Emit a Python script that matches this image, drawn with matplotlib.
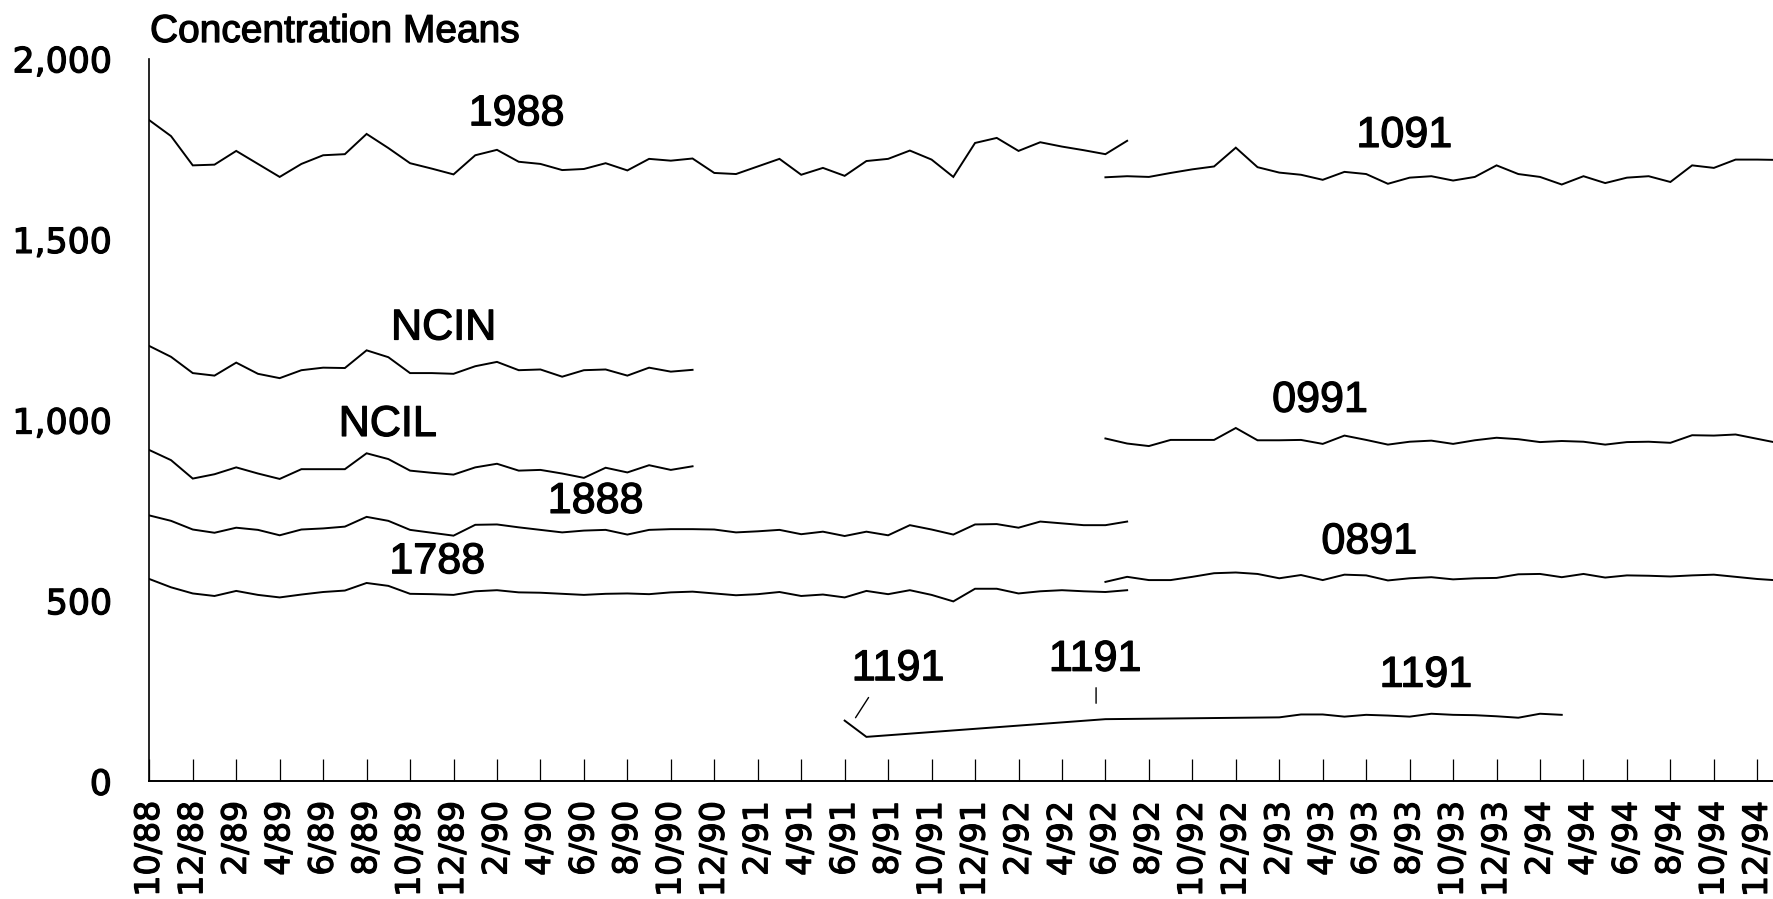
import matplotlib
matplotlib.use("Agg")
import matplotlib.pyplot as plt
import matplotlib.patheffects as pe

# ---------------- data ----------------
tick_labels = ["10/88", "12/88", "2/89", "4/89", "6/89", "8/89", "10/89", "12/89",
               "2/90", "4/90", "6/90", "8/90", "10/90", "12/90", "2/91", "4/91",
               "6/91", "8/91", "10/91", "12/91", "2/92", "4/92", "6/92", "8/92",
               "10/92", "12/92", "2/93", "4/93", "6/93", "8/93", "10/93", "12/93",
               "2/94", "4/94", "6/94", "8/94", "10/94", "12/94"]

# month index 0 = 10/88
x_early = list(range(0, 46))      # 10/88 .. 7/92
x_short = list(range(0, 26))      # 10/88 .. 11/90
x_late = list(range(44, 76))      # 6/92 .. 1/95

s1988 = [1830, 1786, 1705, 1707, 1745, 1709, 1673, 1709, 1733, 1736, 1792, 1753,
         1711, 1696, 1680, 1733, 1748, 1715, 1709, 1692, 1695, 1711, 1691, 1723,
         1718, 1724, 1684, 1681, 1702, 1723, 1679, 1698, 1676, 1717, 1723, 1746,
         1721, 1673, 1767, 1781, 1745, 1769, 1757, 1747, 1736, 1773]

ncin = [1205, 1175, 1130, 1123, 1159, 1128, 1116, 1138, 1145, 1144, 1193, 1174,
        1130, 1130, 1128, 1149, 1161, 1138, 1140, 1120, 1138, 1140, 1123, 1145,
        1134, 1139]

ncil = [917, 889, 838, 850, 869, 852, 837, 864, 864, 864, 908, 892, 860, 854,
        849, 869, 879, 860, 862, 852, 840, 868, 855, 875, 862, 872]

s1888 = [736, 721, 697, 688, 702, 696, 681, 697, 700, 705, 732, 721, 696, 688,
         680, 710, 711, 703, 696, 689, 694, 696, 683, 696, 698, 698, 697, 689,
         692, 696, 684, 691, 679, 691, 681, 709, 697, 683, 711, 712, 702, 719,
         714, 709, 709, 719]

s1788 = [560, 537, 520, 513, 527, 516, 509, 517, 524, 528, 549, 541, 519, 518,
         516, 526, 529, 523, 522, 519, 516, 519, 520, 518, 523, 525, 520, 515,
         518, 524, 513, 517, 509, 527, 518, 529, 516, 498, 533, 533, 520, 526,
         529, 526, 524, 529]

s1091 = [1672, 1675, 1673, 1684, 1694, 1702, 1754, 1700, 1685, 1679, 1665, 1687,
         1681, 1654, 1671, 1675, 1663, 1673, 1705, 1681, 1673, 1652, 1675, 1656,
         1671, 1675, 1659, 1705, 1698, 1721, 1721, 1720]

s0991 = [949, 935, 928, 945, 945, 945, 978, 944, 944, 945, 934, 957, 945, 932,
         940, 943, 934, 944, 951, 947, 939, 942, 940, 932, 939, 940, 937, 958,
         957, 960, 948, 936]

s0891 = [552, 566, 557, 557, 566, 576, 578, 574, 562, 571, 557, 572, 570, 556,
         562, 565, 559, 562, 563, 573, 574, 565, 574, 564, 570, 569, 567, 570,
         572, 566, 560, 556]

x1191 = [32, 33, 44, 52, 53, 54, 55, 56, 57, 58, 59, 60, 61, 62, 63, 64, 65]
s1191 = [168, 123, 172, 177, 185, 185, 179, 184, 182, 179, 187, 184, 183, 180,
         176, 187, 184]

# label text and anchor (month index, value at text baseline)
series_labels = [("1988", 16.9, 1816), ("NCIN", 13.54, 1223), ("NCIL", 10.97, 956),
                 ("1888", 20.54, 743), ("1788", 13.25, 576), ("1091", 57.75, 1756),
                 ("0991", 53.87, 1023), ("0891", 56.14, 631), ("1191", 34.45, 280),
                 ("1191", 43.52, 306), ("1191", 58.74, 262)]
# short leader strokes near the 1191 labels
leaders = [((32.5, 176), (33.1, 232)), ((43.57, 216), (43.57, 259))]

y_ticks = [0, 500, 1000, 1500, 2000]
y_tick_labels = ["0", "500", "1,000", "1,500", "2,000"]

# ---------------- figure ----------------
plt.rcParams["font.family"] = ["Liberation Sans", "DejaVu Sans"]

W, H = 1773, 899
fig = plt.figure(figsize=(W / 100, H / 100), dpi=100)
left = 149.3 / W
bottom = 1 - 781.3 / H
top = 1 - 58.8 / H
ax = fig.add_axes([left, bottom, 1 - left, top - bottom])

heavy = [pe.withStroke(linewidth=0.9, foreground="black")]

lw = 1.4
kw = dict(color="black", lw=lw, solid_joinstyle="miter")
ax.plot(x_early, s1988, **kw)
ax.plot(x_short, ncin, **kw)
ax.plot(x_short, ncil, **kw)
ax.plot(x_early, s1888, **kw)
ax.plot(x_early, s1788, **kw)
ax.plot(x_late, s1091, **kw)
ax.plot(x_late, s0991, **kw)
ax.plot(x_late, s0891, **kw)
ax.plot(x1191, s1191, **kw)

for (p0, p1) in leaders:
    ax.annotate("", xy=p1, xytext=p0,
                arrowprops=dict(arrowstyle="-", color="black", lw=1.0,
                                shrinkA=0, shrinkB=0))

for txt, xi, yv in series_labels:
    ax.text(xi, yv, txt, fontsize=31, ha="center", va="baseline",
            family=["Liberation Sans", "DejaVu Sans"], path_effects=heavy)

ax.set_xlim(0, (W - 149.3) / 21.73)
ax.set_ylim(0, 2000)

ax.set_xticks(list(range(0, 75, 2)))
ax.set_xticklabels(tick_labels, rotation=90, fontsize=24, family="DejaVu Sans")
ax.set_yticks(y_ticks)
ax.set_yticklabels(y_tick_labels, fontsize=25, family="DejaVu Sans")
for t in ax.get_xticklabels() + ax.get_yticklabels():
    t.set_path_effects(heavy)

ax.tick_params(axis="x", direction="in", length=15.8, width=0.9, pad=14)
ax.tick_params(axis="y", length=0, pad=27)

for s in ["top", "right"]:
    ax.spines[s].set_visible(False)
ax.spines["left"].set_linewidth(1.2)
ax.spines["bottom"].set_linewidth(1.4)

fig.text(150 / W, 1 - 42 / H, "Concentration Means", fontsize=28,
         ha="left", va="baseline", path_effects=heavy)

fig.savefig("out.png", dpi=100)
